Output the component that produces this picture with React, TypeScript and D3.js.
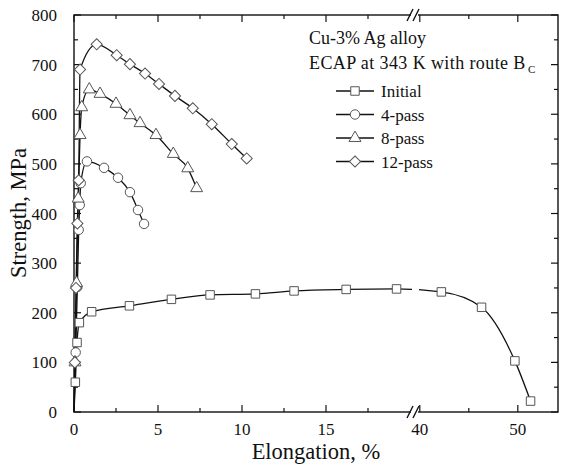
import * as d3 from 'd3'
import { useEffect, useRef } from 'react';

// Initial
const initialElong = [0, 0.08, 0.18, 0.32, 1.05, 3.3, 5.8, 8.1, 10.8, 13.1, 16.2, 19.2, 42.2, 46.3, 49.7, 51.3];
const initialStrength = [0, 60, 140, 180, 202, 214, 227, 236, 238, 244, 247, 248, 242, 211, 103, 22];
// 4-pass
const pass4Elong = [0, 0.1, 0.2, 0.28, 0.34, 0.4, 0.77, 1.79, 2.62, 3.33, 3.81, 4.17];
const pass4Strength = [0, 120, 252, 367, 417, 461, 505, 492, 472, 443, 407, 379];
// 8-pass
const pass8Elong = [0, 0.06, 0.15, 0.25, 0.36, 0.46, 0.91, 1.55, 2.5, 3.33, 3.93, 4.88, 5.91, 6.77, 7.3];
const pass8Strength = [0, 100, 260, 430, 558, 614, 650, 641, 621, 598, 582, 558, 520, 491, 451];
// 12-pass
const pass12Elong = [0, 0.05, 0.12, 0.2, 0.28, 0.36, 1.35, 2.54, 3.33, 4.23, 5.06, 6.01, 7.07, 8.2, 9.39, 10.28];
const pass12Strength = [0, 100, 250, 380, 467, 690, 741, 719, 701, 682, 661, 637, 612, 580, 540, 511];

const seriesNames = ["Initial", "4-pass", "8-pass", "12-pass"];
const seriesMarkers = ["square", "circle", "triangle", "diamond"];

const xLeftTicks = [0, 2.5, 5, 7.5, 10, 12.5, 15, 17.5];
const xRightTicks = [40, 45, 50];
const xLabels = [0, 5, 10, 15, 40, 50];
const yTicks = d3.range(0, 801, 50);
const yLabels = d3.range(0, 801, 100);

function drawChart(svgEl: SVGSVGElement) {
    const svg = d3.select(svgEl);
    svg.selectAll("*").remove();

    const left = 74, right = 558, top = 15, bottom = 412, breakX = 410;
    const xL = d3.scaleLinear().domain([0, 20]).range([left, breakX]);
    const xR = d3.scaleLinear().domain([39, 54.1]).range([breakX, right]);
    const x = (v: number) => (v <= 20 ? xL(v) : xR(v));
    const y = d3.scaleLinear().domain([0, 800]).range([bottom, top]);

    const font = "'Liberation Serif', 'Times New Roman', serif";
    const ink = "#111";

    // clip to hide the curve inside the axis break
    const defs = svg.append("defs");
    const clip = defs.append("clipPath").attr("id", "brk");
    clip.append("rect").attr("x", 0).attr("y", 0).attr("width", breakX + 2).attr("height", 465);
    clip.append("rect").attr("x", breakX + 9).attr("y", 0).attr("width", 200).attr("height", 465);

    // frame
    const frame = svg.append("g").attr("stroke", ink).attr("stroke-width", 1.4).attr("fill", "none");
    frame.append("rect").attr("x", left).attr("y", top).attr("width", right - left).attr("height", bottom - top);

    // ticks
    const tk = svg.append("g").attr("stroke", ink).attr("stroke-width", 1.2);
    const xTicks = xLeftTicks.map(v => ({ p: xL(v), major: v % 5 === 0 }))
        .concat(xRightTicks.map(v => ({ p: xR(v), major: v % 10 === 0 })));
    xTicks.forEach(t => {
        const len = t.major ? 7 : 4;
        tk.append("line").attr("x1", t.p).attr("x2", t.p).attr("y1", bottom).attr("y2", bottom - len);
        tk.append("line").attr("x1", t.p).attr("x2", t.p).attr("y1", top).attr("y2", top + len);
    });
    yTicks.forEach(v => {
        const len = v % 100 === 0 ? 7 : 4;
        tk.append("line").attr("x1", left).attr("x2", left + len).attr("y1", y(v)).attr("y2", y(v));
        tk.append("line").attr("x1", right).attr("x2", right - len).attr("y1", y(v)).attr("y2", y(v));
    });

    // axis break marks
    [bottom, top].forEach(yy => {
        svg.append("rect").attr("x", breakX + 1).attr("y", yy - 2).attr("width", 7).attr("height", 4).attr("fill", "white");
        [0, 6].forEach(dx => {
            svg.append("line")
                .attr("x1", breakX - 3 + dx).attr("y1", yy + 6)
                .attr("x2", breakX + 3 + dx).attr("y2", yy - 6)
                .attr("stroke", ink).attr("stroke-width", 1.4);
        });
    });

    // tick labels
    svg.append("g").selectAll("text").data(yLabels).enter().append("text")
        .attr("x", left - 17).attr("y", d => y(d) + 6)
        .attr("text-anchor", "end").attr("font-family", font).attr("font-size", 17).attr("fill", ink)
        .text(d => d);
    svg.append("g").selectAll("text").data(xLabels).enter().append("text")
        .attr("x", d => x(d)).attr("y", 435)
        .attr("text-anchor", "middle").attr("font-family", font).attr("font-size", 17).attr("fill", ink)
        .text(d => d);

    // axis titles
    svg.append("text").attr("x", 316).attr("y", 459).attr("text-anchor", "middle")
        .attr("font-family", font).attr("font-size", 22.5).attr("fill", ink).text("Elongation, %");
    svg.append("text").attr("transform", "translate(26,213) rotate(-90)").attr("text-anchor", "middle")
        .attr("font-family", font).attr("font-size", 22.5).attr("fill", ink).text("Strength, MPa");

    const series = [
        { e: initialElong, s: initialStrength },
        { e: pass4Elong, s: pass4Strength },
        { e: pass8Elong, s: pass8Strength },
        { e: pass12Elong, s: pass12Strength },
    ];

    const line = d3.line<[number, number]>().x(d => x(d[0])).y(d => y(d[1])).curve(d3.curveMonotoneX);

    const markerPath = (kind: string) => {
        if (kind === "square") return d3.symbol().type(d3.symbolSquare).size(72)();
        if (kind === "circle") return d3.symbol().type(d3.symbolCircle).size(70)();
        if (kind === "triangle") return d3.symbol().type(d3.symbolTriangle).size(62)();
        return d3.symbol().type(d3.symbolSquare).size(62)();
    };
    const drawMarker = (g: any, kind: string, px: number, py: number) => {
        g.append("path").attr("d", markerPath(kind))
            .attr("transform", `translate(${px},${py})` + (kind === "diamond" ? " rotate(45)" : ""))
            .attr("fill", "white").attr("stroke", "#555").attr("stroke-width", 1);
    };

    series.forEach(sr => {
        const pts: [number, number][] = sr.e.map((v, k) => [v, sr.s[k]]);
        svg.append("path").datum(pts).attr("d", line).attr("clip-path", "url(#brk)")
            .attr("fill", "none").attr("stroke", ink).attr("stroke-width", 1.3);
    });
    series.forEach((sr, i) => {
        const g = svg.append("g");
        sr.e.forEach((v, k) => {
            if (sr.s[k] > 0) drawMarker(g, seriesMarkers[i], x(v), y(sr.s[k]));
        });
    });

    // annotation + legend
    svg.append("text").attr("x", 309).attr("y", 44).attr("font-family", font).attr("font-size", 18)
        .attr("fill", ink).text("Cu-3% Ag alloy");
    svg.append("text").attr("x", 309).attr("y", 69).attr("font-family", font).attr("font-size", 18)
        .attr("letter-spacing", 0.4).attr("fill", ink).text("ECAP at 343 K with route B");
    svg.append("text").attr("x", 528).attr("y", 73).attr("font-family", font).attr("font-size", 11)
        .attr("fill", ink).text("C");

    seriesNames.forEach((name, i) => {
        const ly = 91 + i * 23.5;
        const g = svg.append("g");
        g.append("line").attr("x1", 336).attr("x2", 374).attr("y1", ly).attr("y2", ly)
            .attr("stroke", ink).attr("stroke-width", 1.3);
        drawMarker(g, seriesMarkers[i], 355, ly);
        g.append("text").attr("x", 381).attr("y", ly + 6).attr("font-family", font).attr("font-size", 17)
            .attr("fill", ink).text(name);
    });
}

function App() {
    const ref = useRef<SVGSVGElement>(null);
    useEffect(() => {
        if (ref.current) drawChart(ref.current);
    });
    return (
        <svg ref={ref} width="563" height="465" style={{ position: "absolute", left: 0, top: 0, background: "white" }}>
        </svg>
    );
}

export default App;
